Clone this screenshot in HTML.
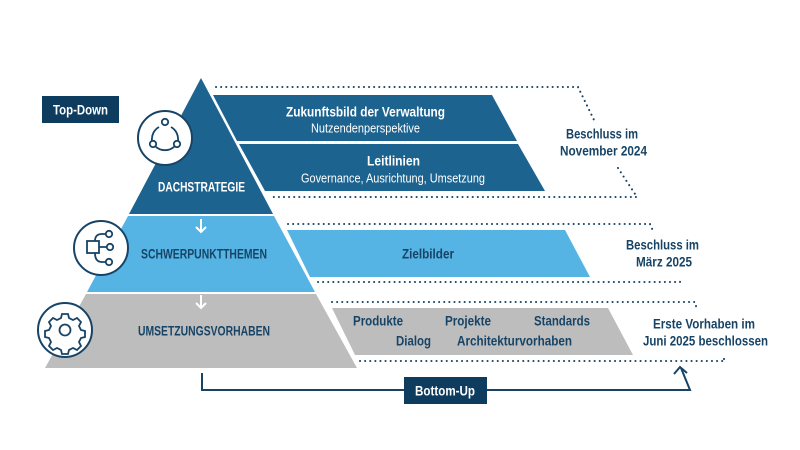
<!DOCTYPE html>
<html><head><meta charset="utf-8"><style>
html,body{margin:0;padding:0;background:#fff;}
svg{display:block;}
text{font-family:"Liberation Sans Narrow","Liberation Sans",sans-serif;font-weight:bold;}
</style></head><body>
<svg width="800" height="450" viewBox="0 0 800 450" xmlns="http://www.w3.org/2000/svg">
<g fill="none" stroke="#174466" stroke-width="2" stroke-dasharray="0.1 5" stroke-linecap="round">
<polyline points="216,87 578,87 594,120"/>
<polyline points="618,168 637,197 272,197"/>
<polyline points="288,224 650,224 653,231"/>
<polyline points="318,282 680,282 681,277"/>
<polyline points="332,302 695,302 697,310"/>
<polyline points="360,361 725,361 722,355"/>
</g>
<polygon points="201,78 273,214 129,214" fill="#1d6390"/>
<polygon points="128,216 274,216 315,292 87,292" fill="#56b4e4"/>
<polygon points="86,294 316,294 357,368 45,368" fill="#bdbdbd"/>
<polygon points="213,95 492,95 517,141 237,141" fill="#1d6390"/>
<polygon points="239,144 518,144 545,191 265,191" fill="#1d6390"/>
<polygon points="287,230 565,230 590,277 310,277" fill="#56b4e4"/>
<polygon points="332,308 608,308 633,355 355,355" fill="#bdbdbd"/>
<g stroke="#fff" stroke-width="2" fill="none">
<path d="M201,219 V232 M196,227 L201,232 L206,227"/>
<path d="M201,295 V308 M196,303 L201,308 L206,303"/>
</g>
<g stroke="#174466" stroke-width="2" fill="#fff">
<circle cx="165" cy="138" r="27"/>
<circle cx="101" cy="248" r="27"/>
<circle cx="65" cy="330" r="27"/>
</g>
<g stroke="#174466" stroke-width="1.8" fill="none">
<path d="M159,127 A14,14 0 0 0 152,141 M178,141 A14,14 0 0 0 171,127 M155,146 A14,14 0 0 0 175,146"/>
<circle cx="165" cy="122" r="3.2"/><circle cx="153" cy="144" r="3.2"/><circle cx="177" cy="144" r="3.2"/>
<rect x="87" y="241" width="12" height="12"/>
<path d="M99,247 H107 M95,241 Q95,234 102,234 H106 M95,253 Q95,262 102,262 H106"/>
<circle cx="109" cy="234" r="3.2"/><circle cx="110" cy="247" r="3.2"/><circle cx="109" cy="262" r="3.2"/>
<circle cx="65" cy="330" r="5.5"/>
<path d="M62,314 h6 l1,4 l4,2 l4,-2 l4,4 l-2,4 l2,4 l4,1 v6 l-4,1 l-2,4 l2,4 l-4,4 l-4,-2 l-4,2 l-1,4 h-6 l-1,-4 l-4,-2 l-4,2 l-4,-4 l2,-4 l-2,-4 l-4,-1 v-6 l4,-1 l2,-4 l-2,-4 l4,-4 l4,2 l4,-2 z"/>
</g>
<g stroke="#174466" stroke-width="2" fill="none">
<polyline points="202,373 202,390 690,390 681,368"/>
<polyline points="674,374 680,367 687,373"/>
</g>
<rect x="42" y="96" width="77" height="27" fill="#0e3c5e"/>
<text x="53" y="114.5" fill="#fff" font-size="13.5" textLength="55" lengthAdjust="spacingAndGlyphs">Top-Down</text>
<rect x="404" y="377" width="83" height="27" fill="#0e3c5e"/>
<text x="415" y="395.5" fill="#fff" font-size="13.5" textLength="60" lengthAdjust="spacingAndGlyphs">Bottom-Up</text>
<g font-size="13.5">
<text x="158" y="191.5" fill="#fff" textLength="87" lengthAdjust="spacingAndGlyphs">DACHSTRATEGIE</text>
<text x="141" y="258.5" fill="#174466" textLength="126" lengthAdjust="spacingAndGlyphs">SCHWERPUNKTTHEMEN</text>
<text x="138" y="335.5" fill="#174466" textLength="132" lengthAdjust="spacingAndGlyphs">UMSETZUNGSVORHABEN</text>
<text x="286" y="116.5" fill="#fff" textLength="159" lengthAdjust="spacingAndGlyphs">Zukunftsbild der Verwaltung</text>
<text x="367" y="165.5" fill="#fff" textLength="53" lengthAdjust="spacingAndGlyphs">Leitlinien</text>
<text x="402" y="258.5" fill="#174466" textLength="52" lengthAdjust="spacingAndGlyphs">Zielbilder</text>
</g>
<text x="311" y="132.5" fill="#fff" font-size="12.5" style="font-weight:normal" textLength="109" lengthAdjust="spacingAndGlyphs">Nutzendenperspektive</text>
<text x="301" y="182.5" fill="#fff" font-size="12.5" style="font-weight:normal" textLength="184" lengthAdjust="spacingAndGlyphs">Governance, Ausrichtung, Umsetzung</text>
<g fill="#174466" font-size="13.5">
<text x="353" y="325.5" textLength="50" lengthAdjust="spacingAndGlyphs">Produkte</text>
<text x="445" y="325.5" textLength="46" lengthAdjust="spacingAndGlyphs">Projekte</text>
<text x="534" y="325.5" textLength="56" lengthAdjust="spacingAndGlyphs">Standards</text>
<text x="396" y="345.5" textLength="35" lengthAdjust="spacingAndGlyphs">Dialog</text>
<text x="457" y="345.5" textLength="115" lengthAdjust="spacingAndGlyphs">Architekturvorhaben</text>
<text x="566" y="138.5" textLength="72" lengthAdjust="spacingAndGlyphs">Beschluss im</text>
<text x="560" y="155.5" textLength="87" lengthAdjust="spacingAndGlyphs">November 2024</text>
<text x="626" y="249.5" textLength="73" lengthAdjust="spacingAndGlyphs">Beschluss im</text>
<text x="636" y="266.5" textLength="56" lengthAdjust="spacingAndGlyphs">März 2025</text>
<text x="653" y="328.5" textLength="102" lengthAdjust="spacingAndGlyphs">Erste Vorhaben im</text>
<text x="643" y="345.5" textLength="125" lengthAdjust="spacingAndGlyphs">Juni 2025 beschlossen</text>
</g>
</svg>
</body></html>
